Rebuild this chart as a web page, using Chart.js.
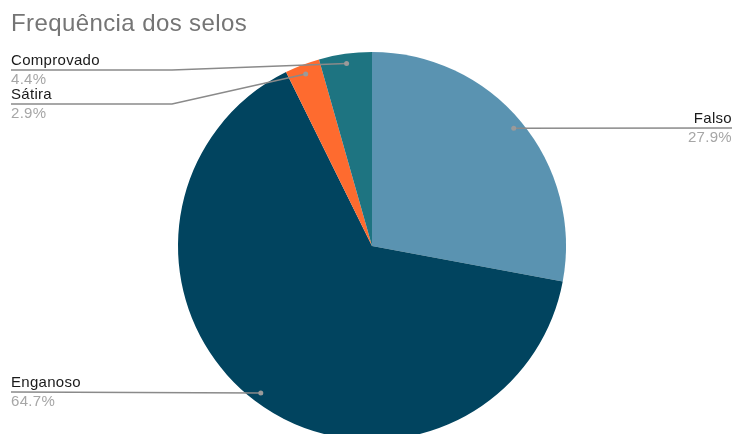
<!DOCTYPE html>
<html>
<head>
<meta charset="utf-8">
<script src="https://cdn.jsdelivr.net/npm/chart.js@4/dist/chart.umd.min.js"></script>
<style>
  html, body { margin: 0; padding: 0; background: #fff; overflow: hidden; }
  #wrap { width: 734px; height: 500px; }
</style>
</head>
<body>
<div id="wrap"><canvas id="chart" width="734" height="500"></canvas></div>
<script>
// Frequência dos selos - pie chart

const labels = ['Falso', 'Enganoso', 'Sátira', 'Comprovado'];
const percents = [27.9, 64.7, 2.9, 4.4];
const sliceColors = ['#5a93b1', '#01445f', '#fe6b2f', '#1e7481'];

// where each callout label sits: side, text baseline y, elbow x of the leader line
const calloutLayout = [
    { side: 'right', y: 123, elbow: null },
    { side: 'left', y: 387, elbow: null },
    { side: 'left', y: 99, elbow: 172 },
    { side: 'left', y: 65, elbow: 172 }
];

const calloutPlugin = {
    id: 'callouts',
    afterDraw(chart) {
        const ctx = chart.ctx;
        const meta = chart.getDatasetMeta(0);

        // title
        ctx.save();
        ctx.fillStyle = '#757575';
        ctx.font = '24px "Liberation Sans", Arial, sans-serif';
        ctx.letterSpacing = '0.4px';
        ctx.textBaseline = 'alphabetic';
        ctx.textAlign = 'left';
        ctx.fillText('Frequência dos selos', 11, 31);
        ctx.restore();

        meta.data.forEach((arc, i) => {
            const p = arc.getProps(['x', 'y', 'startAngle', 'endAngle', 'outerRadius'], true);
            const mid = (p.startAngle + p.endAngle) / 2;
            const r = p.outerRadius * 0.95;
            const dx = p.x + Math.cos(mid) * r;
            const dy = p.y + Math.sin(mid) * r;
            const lay = calloutLayout[i];
            const lineY = lay.y + 5;

            ctx.save();
            ctx.strokeStyle = '#8a8a8a';
            ctx.lineWidth = 1.5;
            ctx.beginPath();
            if (lay.side === 'right') {
                ctx.moveTo(dx, dy);
                ctx.lineTo(732, lineY);
            } else if (lay.elbow) {
                ctx.moveTo(11, lineY);
                ctx.lineTo(lay.elbow, lineY);
                ctx.lineTo(dx, dy);
            } else {
                ctx.moveTo(11, lineY);
                ctx.lineTo(dx, dy);
            }
            ctx.stroke();

            ctx.fillStyle = '#9a9a9a';
            ctx.beginPath();
            ctx.arc(dx, dy, 2.5, 0, Math.PI * 2);
            ctx.fill();

            ctx.font = '15px "Liberation Sans", Arial, sans-serif';
            ctx.letterSpacing = '0.3px';
            ctx.textAlign = lay.side === 'right' ? 'right' : 'left';
            const tx = lay.side === 'right' ? 732 : 11;
            ctx.fillStyle = '#1a1a1a';
            ctx.fillText(labels[i], tx, lay.y);
            ctx.fillStyle = '#a6a6a6';
            ctx.fillText(percents[i].toFixed(1) + '%', tx, lay.y + 18.5);
            ctx.restore();
        });
    }
};

new Chart(document.getElementById('chart'), {
    type: 'pie',
    data: {
        labels: labels,
        datasets: [{
            data: percents,
            backgroundColor: sliceColors,
            borderWidth: 0
        }]
    },
    options: {
        responsive: false,
        animation: false,
        layout: {
            padding: { top: 52, bottom: 60, left: 178, right: 168 }
        },
        plugins: {
            legend: { display: false },
            tooltip: { enabled: false }
        }
    },
    plugins: [calloutPlugin]
});
</script>
</body>
</html>
